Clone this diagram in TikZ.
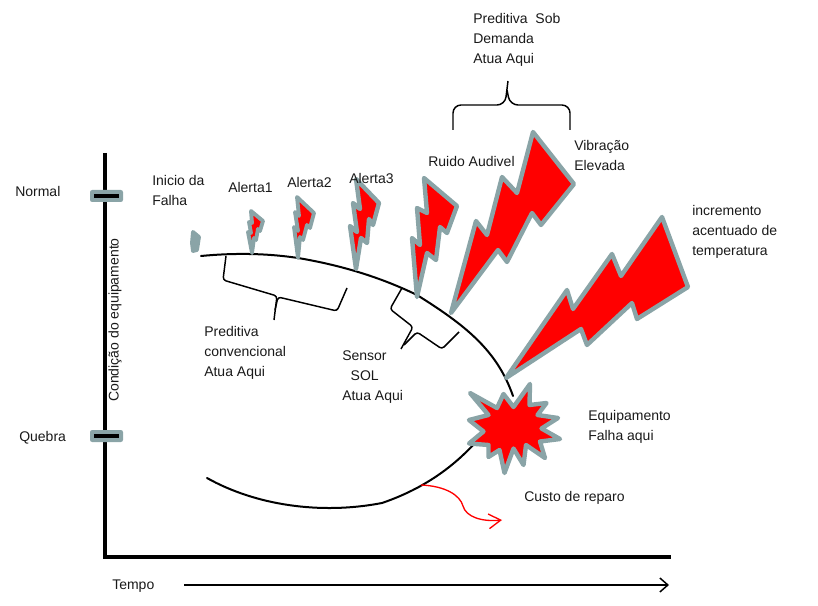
\documentclass[tikz,border=0pt]{standalone}
\usepackage{fontspec}
\setmainfont{Liberation Sans}
\usetikzlibrary{arrows.meta}
\definecolor{boltgrey}{HTML}{8AA4A7}
\definecolor{boltred}{HTML}{FF0000}
\tikzset{
  px/.style={x=0.75pt,y=-0.75pt},
  lbl/.style={anchor=west,inner sep=0pt,align=left,font=\fontsize{10.5}{15}\selectfont,text=black!90},
  bolt/.style={draw=boltgrey,fill=boltred,line width=3.3pt,line join=round},
  smallbolt/.style={draw=boltgrey,fill=boltred,line width=2.9pt,line join=round},
  curveline/.style={draw=black,line width=1.5pt,line cap=round},
  bracket/.style={draw=black,line width=1.1pt,line join=round,rounded corners=2.2pt},
  axisline/.style={draw=black,line width=3pt},
  tickbox/.style={draw=none,fill=boltgrey,rounded corners=1.6pt},
}
\begin{document}
\begin{tikzpicture}[px]
\useasboundingbox (0,0) rectangle (818,606);

% axes
\coordinate (axTop) at (105,153);
\coordinate (axOrigin) at (105,557);
\coordinate (axEnd) at (671,557);
\draw[axisline,line join=miter] (axTop) -- (axOrigin) -- (axEnd);
\coordinate (tA) at (184,585);
\coordinate (tB) at (669,585);
\draw[line width=1.1pt,-{Straight Barb[length=6pt,width=10.5pt,line width=1.1pt]}] (tA) -- (tB);

% level ticks
\fill[tickbox] (90,190) rectangle (123,202);
\fill[black] (94,194) rectangle (119,198);
\fill[tickbox] (90,430) rectangle (123,442);
\fill[black] (94,434) rectangle (119,438);

% degradation curves
\coordinate (cA) at (201,256);
\coordinate (cB) at (298,258);
\coordinate (cC) at (417,295);
\coordinate (cD) at (513,396);
\draw[curveline] (cA) .. controls (232,253) and (265,253) .. (cB)
  .. controls (340,265) and (380,277) .. (cC)
  .. controls (465,325) and (497,350) .. (cD);
\coordinate (dA) at (207,478);
\coordinate (dB) at (382,503);
\coordinate (dC) at (474,444);
\draw[curveline] (dA) .. controls (255,505) and (320,515) .. (dB)
  .. controls (420,490) and (450,470) .. (dC);

% cost arrow
\coordinate (rA) at (421,485);
\coordinate (rB) at (502,520);
\draw[boltred,line width=1pt,-{Straight Barb[length=9pt,width=11pt,line width=1pt]}]
  (rA) .. controls (445,486) and (460,495) .. (463,506)
  .. controls (466,517) and (482,522) .. (rB);

% brackets
\draw[bracket] (226,256) -- (223,280) -- (277,296) -- (274,320);
\draw[bracket] (275,310) -- (278,297) -- (337,311) -- (347,288);
\draw[bracket] (402,288) -- (390,309) -- (413,327) -- (401,349);
\draw[bracket] (404,345) -- (417,332) -- (442,349) -- (459,332);
\draw[bracket,rounded corners=6pt] (453,130) -- (453,105) -- (505,105) -- (508,81);
\draw[bracket,rounded corners=6pt] (507,90) -- (510,105) -- (570,105) -- (570,130);

% lightning bolts
\draw[smallbolt,fill=boltgrey] (193,251) -- (192,243) -- (193,232) -- (199,237) -- (197,250) -- cycle;
\draw[smallbolt] (252,253) -- (248,232) -- (251,233) -- (249,222) -- (252,223) -- (251,211) -- (263,221) -- (260,231) -- (258,229) -- (256,240) -- (254,238) -- cycle;
\draw[smallbolt] (298,258) -- (294,227) -- (298,231) -- (295,212) -- (299,216) -- (297,197) -- (314,213) -- (310,228) -- (307,225) -- (303,240) -- (300,237) -- cycle;
\draw[bolt] (356,269) -- (350,226) -- (357,232) -- (353,203) -- (360,209) -- (356,179) -- (379,203) -- (373,225) -- (369,219) -- (367,243) -- (361,238) -- cycle;
\draw[bolt] (417,297) -- (412,238) -- (420,245) -- (417,208) -- (427,213) -- (424,178) -- (457,206) -- (447,233) -- (440,227) -- (436,260) -- (427,253) -- cycle;
\draw[bolt] (451,313) -- (476,221) -- (487,235) -- (502,177) -- (517,193) -- (533,132) -- (574,184) -- (541,225) -- (532,213) -- (507,262) -- (498,250) -- cycle;
\draw[bolt] (506,378) -- (567,290) -- (573,309) -- (612,254) -- (621,276) -- (662,217) -- (688,287) -- (637,319) -- (632,303) -- (587,345) -- (581,329) -- cycle;

% star
\draw[bolt] (470,393) -- (497,408) -- (503.5,394) -- (513.5,407) -- (530,384) -- (529.5,405) -- (546.5,403) -- (537.5,415) -- (558,418) -- (541.5,428.5) -- (560,439) -- (540,441.5) -- (545,458) -- (526,445) -- (523.5,465) -- (513.5,448.5) -- (504.5,473) -- (499.5,450) -- (488.5,457) -- (488.5,445) -- (469,443.5) -- (483.5,431.5) -- (469,420) -- (488.5,415) -- cycle;

% labels
\node[lbl] (normal) at (15,191) {Normal};
\node[lbl] (quebra) at (19,438) {Quebra};
\node[lbl,anchor=center,rotate=90] (condicao) at (115,320) {Condição do equipamento};
\node[lbl] (tempo) at (112,586) {Tempo};
\node[lbl] (inicio) at (152,190) {Inicio da\\Falha};
\node[lbl] (a1) at (228,187) {Alerta1};
\node[lbl] (a2) at (287,182) {Alerta2};
\node[lbl] (a3) at (349,178) {Alerta3};
\node[lbl] (ruido) at (428,161) {Ruido Audivel};
\node[lbl] (vibra) at (574,155) {Vibração\\Elevada};
\node[lbl] (predsob) at (473,40) {Preditiva\hspace{0.55em}Sob\\Demanda\\Atua Aqui};
\node[lbl] (incr) at (692,232) {incremento\\acentuado de\\temperatura};
\node[lbl] (predconv) at (204,353) {Preditiva\\convencional\\Atua Aqui};
\node[lbl] (sensor) at (342,377) {Sensor\\\hspace*{0.6em}SOL\\Atua Aqui};
\node[lbl] (equip) at (588,427) {Equipamento\\Falha aqui};
\node[lbl] (custo) at (524,498) {Custo de reparo};
\end{tikzpicture}
\end{document}
